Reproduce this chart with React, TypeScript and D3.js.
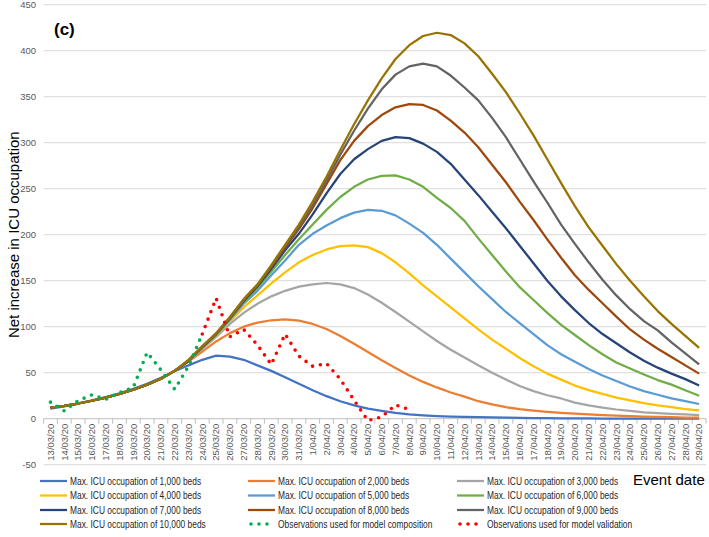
import React from 'react';
import * as d3 from 'd3';

// Event dates (category axis)
const dates = [
  '13/03/20', '14/03/20', '15/03/20', '16/03/20', '17/03/20', '18/03/20', '19/03/20', '20/03/20',
  '21/03/20', '22/03/20', '23/03/20', '24/03/20', '25/03/20', '26/03/20', '27/03/20', '28/03/20',
  '29/03/20', '30/03/20', '31/03/20', '1/04/20', '2/04/20', '3/04/20', '4/04/20', '5/04/20',
  '6/04/20', '7/04/20', '8/04/20', '9/04/20', '10/04/20', '11/04/20', '12/04/20', '13/04/20',
  '14/04/20', '15/04/20', '16/04/20', '17/04/20', '18/04/20', '19/04/20', '20/04/20', '21/04/20',
  '22/04/20', '23/04/20', '24/04/20', '25/04/20', '26/04/20', '27/04/20', '28/04/20', '29/04/20'
];

const yTicks = [-50, 0, 50, 100, 150, 200, 250, 300, 350, 400, 450];

// shared start of the model curves, 13/03 - 22/03
const earlyCommon = [12, 14, 16.5, 19.5, 23, 27, 31.5, 37, 43.5, 52];

const beds1000 = [11, 13.5, 16.5, 20, 23.5, 27.5, 32.5, 38, 44.5, 51.5,
  58, 64, 68.5, 67.5, 64, 58, 52, 45, 38, 31,
  24.5, 19, 14.5, 11, 8.5, 6.3, 4.7, 3.6, 2.8, 2.3,
  2, 1.8, 1.5, 1.2, 0.9, 0.7, 0.5, 0.4, 0.3, 0.3,
  0.2, 0.2, 0.1, 0.1, 0.1, 0.1, 0.1, 0.1];
const beds2000 = [...earlyCommon,
  62, 73, 84, 93, 100, 104.5, 107, 108, 106.5, 103,
  97.5, 90, 81.5, 72.5, 63.5, 55, 47, 40, 34, 28.5,
  24, 19, 15.5, 12.5, 10.3, 8.7, 7.4, 6.3, 5.4, 4.6,
  3.9, 3.3, 2.8, 2.3, 1.9, 1.6, 1.3, 1.1];
const beds3000 = [...earlyCommon,
  62, 76, 89, 103, 115, 125, 133, 139, 143.5, 146,
  147.5, 146, 142, 135, 126, 116, 105.5, 95, 84.5, 75,
  66.5, 58, 50, 42.5, 35.5, 30, 25.5, 22, 17.5, 14.5,
  12, 10, 8.5, 7, 6, 5.2, 4.6, 4];
const beds4000 = [...earlyCommon,
  63, 77, 90.5, 106, 121, 134, 147, 159, 170, 178,
  184, 187.5, 188.5, 186.5, 180, 170, 158, 145, 133, 121,
  109, 97, 86, 76, 66, 57, 49, 42.5, 36, 31,
  27, 23, 20, 17, 14.5, 12.5, 10.5, 9];
const beds5000 = [...earlyCommon,
  63, 77, 91, 107.5, 125, 139, 156, 172, 189, 201,
  210, 218, 224, 227, 226, 221, 212, 202, 189, 174,
  159, 144, 130, 116, 104, 92, 80, 70, 62, 54,
  47, 41, 35, 30, 26, 22, 19, 16];
const beds6000 = [...earlyCommon,
  63, 77.5, 91.5, 108.5, 127, 142, 160, 178, 195, 211,
  227, 241, 252, 260, 264, 264.5, 260, 252, 240, 229,
  215, 196, 178, 160, 143, 129, 115, 102, 91, 80,
  70, 61, 54.5, 48, 42, 37, 31, 25];
const beds7000 = [...earlyCommon,
  63, 78, 92, 109, 128, 144, 163, 183, 201, 222,
  245, 266, 282, 293, 302, 306, 305, 299, 290, 277,
  260, 243, 225, 207, 188, 169, 150, 133, 118, 104,
  92, 82, 72, 63, 55.5, 49, 43, 36];
const beds8000 = [...earlyCommon,
  63, 78, 92, 109.5, 129, 145, 165, 186, 206, 229,
  255, 281, 302, 318, 330, 338.5, 342, 341, 335, 324,
  311, 295, 276, 257, 236, 216, 195, 175, 156, 140,
  125.5, 111, 97, 86, 76, 67, 58, 49];
const beds9000 = [...earlyCommon,
  63.5, 78.5, 92.5, 110, 129.5, 145.5, 166, 188, 208, 232,
  259, 287, 313, 337, 358, 374, 383, 386, 383, 373,
  360, 346, 327, 306, 282, 258, 235, 211, 190, 170,
  151, 134, 119, 106, 96, 83, 71, 59];
const beds10000 = [...earlyCommon,
  64, 79, 93, 110.5, 130, 146, 167, 189, 211, 236,
  263, 292, 320, 346, 370, 391, 406, 416, 419.5, 417,
  408, 394, 375, 355, 332, 308, 282, 256, 231, 208,
  188, 168, 150, 133, 117, 103, 90, 77];

// observations: 13/03 - 24/03 and 24/03 - 8/04
const compositionStart = 0;
const composition = [18, 8.5, 19.5, 26, 21, 28.5, 34, 72, 53, 32, 57, 92];
const validationStart = 11;
const validation = [92, 131, 89, 97, 80, 59, 92, 68, 57, 60, 43, 20, -2, 2, 15, 10];

const modelNames = [
  'Max. ICU occupation of 1,000 beds', 'Max. ICU occupation of 2,000 beds',
  'Max. ICU occupation of 3,000 beds', 'Max. ICU occupation of 4,000 beds',
  'Max. ICU occupation of 5,000 beds', 'Max. ICU occupation of 6,000 beds',
  'Max. ICU occupation of 7,000 beds', 'Max. ICU occupation of 8,000 beds',
  'Max. ICU occupation of 9,000 beds', 'Max. ICU occupation of 10,000 beds'
];
const modelColors = ['#4472C4', '#ED7D31', '#A5A5A5', '#FFC000', '#5B9BD5',
  '#70AD47', '#264478', '#9E480E', '#636363', '#997300'];
const modelValues = [beds1000, beds2000, beds3000, beds4000, beds5000,
  beds6000, beds7000, beds8000, beds9000, beds10000];

const obsNames = ['Observations used for model composition', 'Observations used for model validation'];
const obsColors = ['#00B050', '#FF0000'];

const W = 709;
const H = 537;
const FONT = "'Liberation Sans', Arial, sans-serif";

export default function App() {
  const x = d3.scaleLinear().domain([-0.5, dates.length - 0.5]).range([43.6, 706]);
  const y = d3.scaleLinear().domain([-50, 450]).range([464.7, 4.7]);

  const lineFrom = (start: number) =>
    d3.line<number>()
      .x((_, i) => x(start + i))
      .y(d => y(d));

  const bounds = d3.range(dates.length + 1).map(k => x(k - 0.5));

  // legend: 3 columns x 4 rows
  const legendItems = [
    ...modelNames.map((name, i) => ({ name, color: modelColors[i], dotted: false })),
    ...obsNames.map((name, i) => ({ name, color: obsColors[i], dotted: true }))
  ];
  const colX = [40, 248, 457];
  const rowY = [481, 495.5, 510, 524];

  return (
    <div style={{ position: 'fixed', left: 0, top: 0 }}>
      <svg width={W} height={H} style={{ display: 'block', background: '#fff' }}>
        {/* gridlines */}
        {yTicks.map(t => (
          <line key={t} x1={x.range()[0]} x2={x.range()[1]} y1={y(t)} y2={y(t)}
            stroke={t === 0 ? '#bfbfbf' : '#d9d9d9'} strokeWidth={1} />
        ))}
        {yTicks.map(t => (
          <text key={'l' + t} x={36} y={y(t)} dy="0.35em" textAnchor="end"
            fontFamily={FONT} fontSize={9.5} fill="#595959">{t}</text>
        ))}
        {/* category ticks on zero line */}
        {bounds.map((b, k) => (
          <line key={'t' + k} x1={b} x2={b} y1={y(0)} y2={y(0) + 5} stroke="#bfbfbf" strokeWidth={1} />
        ))}
        {dates.map((d, i) => (
          <text key={d} transform={`translate(${x(i)},${y(0) + 5}) rotate(-90)`}
            dy="0.35em" textAnchor="end" fontFamily={FONT} fontSize={9.5} fill="#595959">{d}</text>
        ))}

        {/* model curves */}
        {modelValues.map((vals, k) => (
          <path key={'m' + k} d={lineFrom(0)(vals) || ''} fill="none"
            stroke={modelColors[k]} strokeWidth={2.25} strokeLinejoin="round" />
        ))}

        {/* observations */}
        <path d={lineFrom(compositionStart)(composition) || ''} fill="none" stroke={obsColors[0]}
          strokeWidth={3.6} strokeDasharray="0 8" strokeLinecap="round" />
        <path d={lineFrom(validationStart)(validation) || ''} fill="none" stroke={obsColors[1]}
          strokeWidth={3.6} strokeDasharray="0 8" strokeLinecap="round" />

        {/* titles */}
        <text x={54} y={35} fontFamily={FONT} fontSize={17} fontWeight="bold" fill="#000">(c)</text>
        <text transform={`translate(19,${(y(-50) + y(450)) / 2}) rotate(-90)`} textAnchor="middle"
          fontFamily={FONT} fontSize={15} fill="#000">Net increase in ICU occupation</text>
        <text x={633} y={485} fontFamily={FONT} fontSize={15} fill="#000">Event date</text>

        {/* legend */}
        {legendItems.map((it, i) => {
          const cx = colX[i % 3];
          const cy = rowY[Math.floor(i / 3)];
          return (
            <g key={'lg' + i}>
              {it.dotted ? (
                <line x1={cx + 3} x2={cx + 27} y1={cy} y2={cy} stroke={it.color} strokeWidth={3.6}
                  strokeDasharray="0 8" strokeLinecap="round" />
              ) : (
                <line x1={cx} x2={cx + 27} y1={cy} y2={cy} stroke={it.color} strokeWidth={2.25} />
              )}
              <text transform={`translate(${cx + 30},${cy}) scale(0.8,1)`} dy="0.35em"
                fontFamily={FONT} fontSize={10.5} fill="#262626">{it.name}</text>
            </g>
          );
        })}
      </svg>
    </div>
  );
}
